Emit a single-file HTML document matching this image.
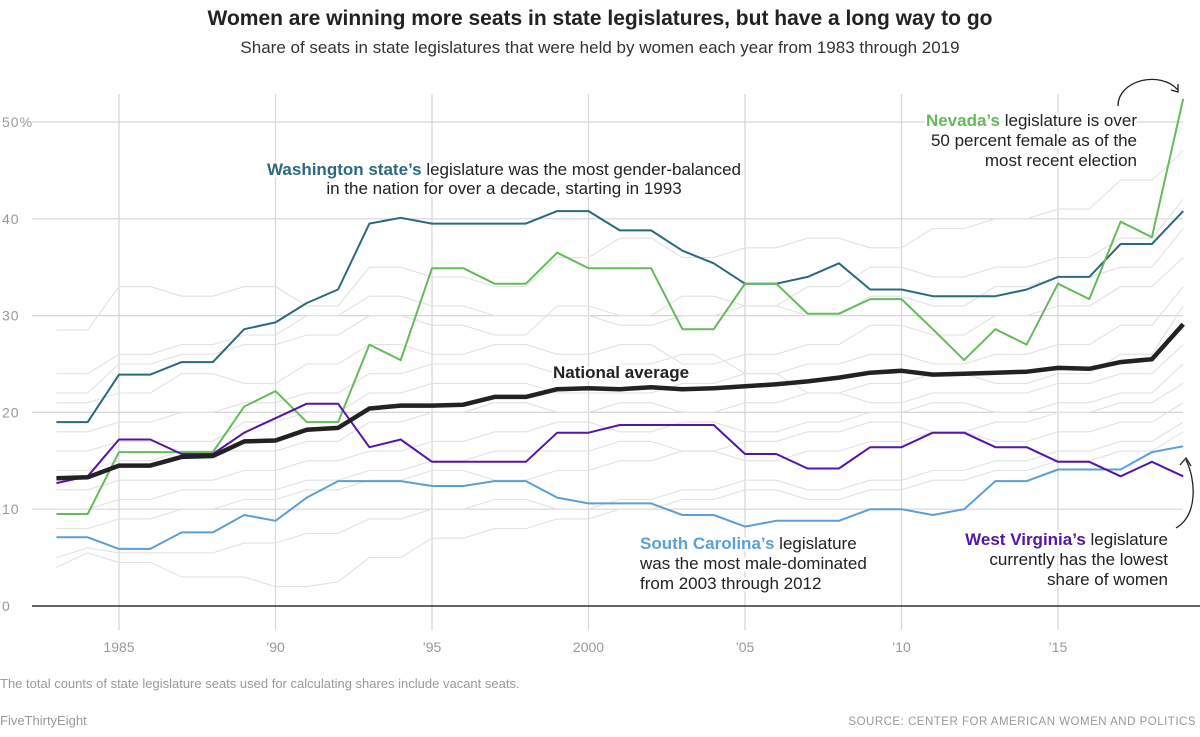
<!DOCTYPE html>
<html><head><meta charset="utf-8"><style>
html,body{margin:0;padding:0;background:#fff;width:1200px;height:737px;overflow:hidden;font-family:"Liberation Sans",sans-serif}
svg{display:block}
</style></head><body>
<svg id="c" width="1200" height="737">
<text x="600" y="25" text-anchor="middle" font-size="21" font-weight="bold" fill="#222">Women are winning more seats in state legislatures, but have a long way to go</text>
<text x="600" y="53" text-anchor="middle" font-size="17" fill="#333">Share of seats in state legislatures that were held by women each year from 1983 through 2019</text>
<g id="grid"></g>
<g id="gray"></g>
<g id="hl"></g>
<g id="ann"></g>
<text x="0" y="688" font-size="13" fill="#999">The total counts of state legislature seats used for calculating shares include vacant seats.</text>
<text x="0" y="725" font-size="13" fill="#999">FiveThirtyEight</text>
<text x="1196" y="725" text-anchor="end" font-size="11.5" fill="#999" letter-spacing="0.5">SOURCE: CENTER FOR AMERICAN WOMEN AND POLITICS</text>
</svg>
<script>
const years=[];for(let y=1983;y<=2019;y++)years.push(y);
const yTicks=[0,10,20,30,40,50];
const yTickLabels=["0","10","20","30","40","50%"];
const xTicks=[1985,1990,1995,2000,2005,2010,2015];
const xTickLabels=["1985","’90","’95","2000","’05","’10","’15"];
const national=[13.2,13.3,14.5,14.5,15.4,15.5,17,17.1,18.2,18.4,20.4,20.7,20.7,20.8,21.6,21.6,22.4,22.5,22.4,22.6,22.4,22.5,22.7,22.9,23.2,23.6,24.1,24.3,23.9,24,24.1,24.2,24.6,24.5,25.2,25.5,29.1];
const washington=[19,19,23.9,23.9,25.2,25.2,28.6,29.3,31.3,32.7,39.5,40.1,39.5,39.5,39.5,39.5,40.8,40.8,38.8,38.8,36.7,35.4,33.3,33.3,34,35.4,32.7,32.7,32,32,32,32.7,34,34,37.4,37.4,40.8];
const nevada=[9.5,9.5,15.9,15.9,15.9,15.9,20.6,22.2,19,19,27,25.4,34.9,34.9,33.3,33.3,36.5,34.9,34.9,34.9,28.6,28.6,33.3,33.3,30.2,30.2,31.7,31.7,28.6,25.4,28.6,27,33.3,31.7,39.7,38.1,52.4];
const westVirginia=[12.7,13.4,17.2,17.2,15.7,15.7,17.9,19.4,20.9,20.9,16.4,17.2,14.9,14.9,14.9,14.9,17.9,17.9,18.7,18.7,18.7,18.7,15.7,15.7,14.2,14.2,16.4,16.4,17.9,17.9,16.4,16.4,14.9,14.9,13.4,14.9,13.4];
const southCarolina=[7.1,7.1,5.9,5.9,7.6,7.6,9.4,8.8,11.2,12.9,12.9,12.9,12.4,12.4,12.9,12.9,11.2,10.6,10.6,10.6,9.4,9.4,8.2,8.8,8.8,8.8,10,10,9.4,10,12.9,12.9,14.1,14.1,14.1,15.9,16.5];
const g1=[28.5,28.5,33,33,32,32,33,33,31,31,35,35,34,34,33,33,36,36,38,38,36,36,37,37,38,38,37,37,39,39,40,40,41,41,44,44,47];
const g2=[24,24,26,26,27,27,28,28,30,30,32,32,31,31,30,30,30,30,29,29,30,30,31,31,33,33,35,35,34,34,35,35,36,36,38,38,42];
const g3=[21,21,22,22,24,24,23,23,25,25,27,27,26,26,27,27,26,26,27,27,25,25,26,26,27,27,29,29,28,28,30,30,31,31,33,33,36];
const g4=[18,18,19,19,20,20,21,21,22,22,24,24,25,25,25,25,24,24,25,25,26,26,24,24,25,25,26,26,25,25,26,26,27,27,29,29,33];
const g5=[16,16,17,17,17,17,19,19,20,20,22,22,23,23,23,23,22,22,22,22,23,23,24,24,22,22,23,23,24,24,23,23,24,24,26,26,31];
const g6=[14,14,15,15,16,16,16,16,17,17,19,19,20,20,21,21,20,20,21,21,20,20,21,21,22,22,21,21,22,22,22,22,23,23,24,24,27];
const g7=[12,12,13,13,13,13,14,14,15,15,16,16,17,17,18,18,19,19,18,18,19,19,18,18,19,19,20,20,21,21,20,20,21,21,22,22,25];
const g8=[10,10,11,11,12,12,12,12,13,13,14,14,15,15,16,16,16,16,17,17,16,16,17,17,18,18,19,19,18,18,19,19,20,20,21,21,23];
const g9=[8,8,9,9,10,10,11,11,12,12,13,13,14,14,13,13,14,14,15,15,16,16,15,15,16,16,17,17,18,18,17,17,18,18,19,19,21];
const g10=[4,5.5,4.5,4.5,3,3,3,2,2,2.5,5,5,7,7,8,8,9,9,10,10,11,11,12,12,11,11,12,12,13,13,14,14,15,15,16,16,18];
const g11=[5,6,5.5,5.5,5.5,5.5,6.5,6.5,7.5,7.5,9,9,10,10,11,11,10,10,11,11,12,12,13,13,12,12,13,13,14,14,15,15,16,16,17,17,19];
const g12=[22,22,25,25,26,26,27,27,28,28,30,30,29,29,28,28,31,31,30,30,32,32,31,31,30,30,32,32,31,31,33,33,34,34,35,35,39];
const grays=[g1,g2,g3,g4,g5,g6,g7,g8,g9,g10,g11,g12];

const X=y=>56.4+(y-1983)*31.3;
const Y=v=>606-v*9.68;
const NS="http://www.w3.org/2000/svg";
function mk(tag,attrs,parent){const e=document.createElementNS(NS,tag);for(const k in attrs)e.setAttribute(k,attrs[k]);parent.appendChild(e);return e;}
const grid=document.getElementById('grid');
yTicks.forEach((t,i)=>{
  if(t>0){const l=mk('line',{x1:32,x2:1183,y1:Y(t),y2:Y(t),stroke:'#d6d6d6','stroke-width':1.2},grid);
  
  }
  const tx=mk('text',{x:2,y:Y(t)+5,'font-size':14,fill:'#999','letter-spacing':1},grid);
  tx.textContent=yTickLabels[i];
  
  
});
xTicks.forEach((t,i)=>{
  const l=mk('line',{x1:X(t),x2:X(t),y1:94,y2:630,stroke:'#d6d6d6','stroke-width':1.2},grid);
  
  
  const tx=mk('text',{x:X(t),y:652,'text-anchor':'middle','font-size':14,fill:'#999'},grid);
  tx.textContent=xTickLabels[i];
  
  
});
const base=mk('line',{x1:32,x2:1200,y1:Y(0),y2:Y(0),stroke:'#333','stroke-width':1.5},grid);


const pts=a=>a.map((v,i)=>X(years[i]).toFixed(1)+','+Y(v).toFixed(1)).join(' ');
const gg=document.getElementById('gray');
grays.forEach(a=>{const p=mk('polyline',{points:pts(a),fill:'none',stroke:'#e2e2e2','stroke-width':1.1},gg);

});
const hl=document.getElementById('hl');
[[southCarolina,'#5b9fd6','south-carolina-line',2],[washington,'#2b6a7d','washington-line',2],[nevada,'#66b95c','nevada-line',2],[westVirginia,'#5316a6','west-virginia-line',2],[national,'#222','national-average-line',4.5]].forEach(([a,c,n,w])=>{
  const p=mk('polyline',{points:pts(a),fill:'none',stroke:c,'stroke-width':w,'stroke-linejoin':'round'},hl);
  
  
});
const ann=document.getElementById('ann');
function label(x,y,anchor,parts,name){
  const t=mk('text',{x:x,y:y,'text-anchor':anchor,'font-size':17,fill:'#222',stroke:'#fff','stroke-width':5,'paint-order':'stroke'},ann);
  parts.forEach(([s,c,b])=>{const sp=mk('tspan',{fill:c||'#222','font-weight':b?'bold':'normal'},t);sp.textContent=s;});
  
  
}
label(504,175,'middle',[["Washington state’s",'#2b6a7d',1],[" legislature was the most gender-balanced"]],'washington-annotation');
label(504,194,'middle',[["in the nation for over a decade, starting in 1993"]],'washington-annotation-2');
label(1137,126,'end',[["Nevada’s",'#66b95c',1],[" legislature is over"]],'nevada-annotation');
label(1137,146,'end',[["50 percent female as of the"]],'nevada-annotation-2');
label(1137,166,'end',[["most recent election"]],'nevada-annotation-3');
label(621,378,'middle',[["National average",'#222',1]],'national-annotation');
label(640,549,'start',[["South Carolina’s",'#5b9fd6',1],[" legislature"]],'south-carolina-annotation');
label(640,569,'start',[["was the most male-dominated"]],'south-carolina-annotation-2');
label(640,589,'start',[["from 2003 through 2012"]],'south-carolina-annotation-3');
label(1168,545,'end',[["West Virginia’s",'#5316a6',1],[" legislature"]],'west-virginia-annotation');
label(1168,565,'end',[["currently has the lowest"]],'west-virginia-annotation-2');
label(1168,585,'end',[["share of women"]],'west-virginia-annotation-3');
const a1=mk('path',{d:'M1118,106 C1118,80 1160,70 1178,90',fill:'none',stroke:'#222','stroke-width':1.3},ann);

const h1=mk('path',{d:'M1171,90 L1178,92 L1178,84',fill:'none',stroke:'#222','stroke-width':1.3},ann);

const a2=mk('path',{d:'M1176,528 C1198,515 1196,480 1186,460',fill:'none',stroke:'#222','stroke-width':1.3},ann);

const h2=mk('path',{d:'M1180,465 L1186,458 L1191,466',fill:'none',stroke:'#222','stroke-width':1.3},ann);

</script>
</body></html>
